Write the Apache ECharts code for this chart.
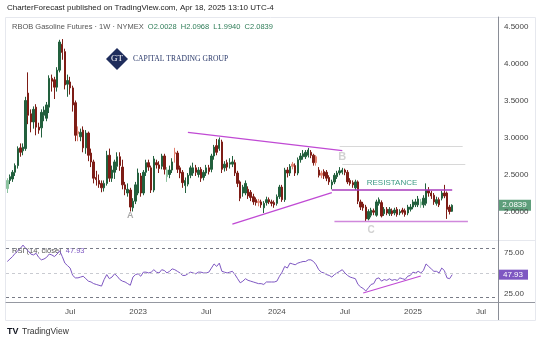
<!DOCTYPE html>
<html><head><meta charset="utf-8">
<script src="https://cdn.jsdelivr.net/npm/echarts@6/dist/echarts.min.js"></script>
<style>html,body{margin:0;padding:0;background:#fff}#c{width:540px;height:343px}</style>
</head><body><div id="c"></div>
<script>
// ---- data (weekly, RBOB Gasoline Futures, starting week of 2022-01-10) ----
const firstWeek = [2022, 0, 10];
const weekSlots = 188; // axis extends to Aug 2025
const openP = [2.31,2.42,2.44,2.53,2.62,2.86,2.82,2.85,3.60,3.32,3.21,3.41,3.14,3.13,3.30,3.26,3.41,3.80,3.78,3.68,
3.91,4.26,4.16,3.72,3.75,3.67,3.47,3.08,3.01,3.10,2.86,3.06,2.79,2.67,2.46,2.42,2.38,2.32,2.38,2.76,
2.45,2.53,2.61,2.74,2.60,2.36,2.25,2.29,2.05,2.14,2.25,2.48,2.25,2.53,2.66,2.59,2.29,2.66,2.63,2.61,
2.75,2.47,2.50,2.56,2.80,2.79,2.59,2.53,2.35,2.37,2.49,2.52,2.59,2.50,2.57,2.46,2.52,2.59,2.57,2.75,
2.89,2.85,2.94,2.59,2.66,2.64,2.64,2.66,2.52,2.40,2.25,2.25,2.30,2.26,2.20,2.16,2.14,2.13,2.05,2.12,
2.16,2.13,2.12,2.11,2.20,2.33,2.16,2.56,2.52,2.64,2.62,2.52,2.70,2.74,2.74,2.76,2.80,2.76,2.74,2.56,
2.52,2.54,2.53,2.46,2.36,2.40,2.47,2.52,2.53,2.56,2.53,2.42,2.39,2.32,2.40,2.13,2.10,2.06,1.90,1.95,
2.01,1.95,2.11,2.12,1.97,2.03,1.97,2.01,1.98,2.03,1.98,2.02,2.01,1.98,2.03,2.06,2.09,2.09,2.09,2.09,
2.11,2.29,2.25,2.22,2.11,2.16,2.18,2.25,2.25,2.06,2.0028];
const closeP = [2.42,2.47,2.53,2.62,2.85,2.80,2.87,3.50,3.30,3.21,3.38,3.14,3.10,3.34,3.37,3.44,3.80,3.76,3.68,3.91,
4.29,4.15,3.71,3.77,3.67,3.44,3.03,3.05,3.07,2.86,3.06,2.76,2.67,2.45,2.43,2.37,2.32,2.38,2.76,2.45,
2.56,2.67,2.74,2.62,2.36,2.30,2.30,2.06,2.14,2.36,2.52,2.25,2.53,2.66,2.60,2.29,2.71,2.63,2.58,2.75,
2.57,2.56,2.56,2.67,2.78,2.57,2.52,2.39,2.42,2.49,2.59,2.59,2.53,2.56,2.45,2.53,2.59,2.54,2.75,2.87,
2.80,2.97,2.57,2.64,2.60,2.66,2.67,2.52,2.38,2.18,2.33,2.38,2.21,2.19,2.13,2.12,2.12,2.09,2.11,2.16,
2.13,2.11,2.09,2.20,2.33,2.16,2.56,2.52,2.61,2.61,2.52,2.70,2.75,2.78,2.80,2.83,2.76,2.66,2.66,2.49,
2.49,2.48,2.45,2.40,2.40,2.49,2.52,2.55,2.56,2.53,2.40,2.38,2.36,2.40,2.14,2.06,2.05,1.90,2.00,2.02,
1.99,2.13,2.16,1.94,2.03,1.98,2.03,1.97,2.02,1.96,2.00,1.99,1.96,2.06,2.06,2.13,2.13,2.17,2.13,2.18,
2.29,2.25,2.21,2.13,2.16,2.09,2.25,2.21,2.03,2.00,2.0839];
const lowP = [2.25,2.37,2.40,2.48,2.58,2.74,2.76,2.82,3.18,3.07,3.12,3.03,3.05,3.00,3.22,3.22,3.33,3.62,3.52,3.62,
3.88,4.05,3.65,3.55,3.58,3.35,2.95,2.95,2.95,2.80,2.78,2.68,2.60,2.38,2.35,2.32,2.26,2.27,2.35,2.40,
2.40,2.44,2.56,2.55,2.30,2.22,2.20,2.00,2.00,2.10,2.22,2.20,2.22,2.48,2.55,2.25,2.26,2.58,2.52,2.57,
2.50,2.40,2.45,2.52,2.66,2.52,2.45,2.32,2.25,2.34,2.45,2.48,2.48,2.46,2.40,2.42,2.48,2.50,2.53,2.70,
2.76,2.82,2.52,2.54,2.55,2.58,2.60,2.48,2.33,2.14,2.20,2.22,2.17,2.14,2.09,2.08,2.07,2.05,1.98,2.08,
2.10,2.07,2.05,2.08,2.17,2.13,2.13,2.46,2.48,2.57,2.48,2.49,2.66,2.70,2.71,2.73,2.72,2.62,2.62,2.46,
2.45,2.44,2.41,2.36,2.30,2.37,2.44,2.49,2.50,2.49,2.37,2.35,2.32,2.29,2.10,2.02,2.01,1.87,1.88,1.92,
1.95,1.93,2.08,1.92,1.94,1.95,1.94,1.94,1.95,1.93,1.95,1.96,1.93,1.95,2.00,2.03,2.06,2.06,2.05,2.05,
2.08,2.20,2.17,2.09,2.08,2.06,2.15,2.18,1.90,1.96,1.9940];
const highP = [2.45,2.50,2.56,2.65,2.88,2.92,2.92,3.55,3.88,3.38,3.42,3.45,3.20,3.38,3.42,3.48,3.84,3.85,3.82,3.95,
4.32,4.33,4.20,3.85,3.82,3.70,3.50,3.15,3.12,3.15,3.10,3.08,2.85,2.70,2.55,2.50,2.42,2.42,2.82,2.85,
2.62,2.70,2.80,2.80,2.70,2.40,2.38,2.32,2.18,2.40,2.58,2.52,2.56,2.70,2.70,2.62,2.75,2.70,2.68,2.78,
2.78,2.60,2.62,2.72,2.86,2.82,2.62,2.56,2.46,2.52,2.62,2.66,2.63,2.60,2.60,2.56,2.63,2.63,2.78,2.90,
2.98,3.00,2.97,2.68,2.70,2.72,2.75,2.70,2.55,2.42,2.36,2.42,2.34,2.29,2.24,2.19,2.17,2.16,2.14,2.20,
2.19,2.16,2.15,2.23,2.36,2.36,2.59,2.60,2.64,2.67,2.65,2.73,2.79,2.83,2.83,2.86,2.83,2.78,2.76,2.60,
2.55,2.57,2.56,2.49,2.43,2.52,2.55,2.60,2.59,2.58,2.56,2.45,2.42,2.43,2.42,2.16,2.13,2.09,2.03,2.05,
2.04,2.16,2.19,2.15,2.06,2.06,2.06,2.04,2.05,2.06,2.03,2.05,2.04,2.09,2.10,2.16,2.17,2.21,2.17,2.22,
2.38,2.33,2.28,2.25,2.20,2.19,2.28,2.36,2.27,2.09,2.0968];
const rsi = [64,67,70,74,77,80,84,80,77,73,72,74,69,66,67,69,73,72,70,73,
77,70,62,59,56,47,44,44,45,46,43,40,39,37,36,35,34,42,48,43,
45,49,46,42,40,39,37,35,45,48,49,46,51,51,50,51,54,51,50,54,
53,50,52,55,54,52,50,47,47,49,51,50,49,51,51,50,50,51,56,61,
58,62,52,51,50,51,52,48,43,38,40,43,41,40,39,38,37,37,36,39,
39,39,39,40,46,51,58,56,62,61,60,62,63,64,64,66,66,64,60,54,
51,50,48,47,45,48,50,52,54,50,47,45,44,43,36,33,31,28,32,36,
37,43,44,40,42,41,43,41,42,41,44,43,42,46,47,51,50,52,50,53,
61,58,55,52,52,50,56,53,44,43,47.93];
const priceTicks = [2.0, 2.5, 3.0, 3.5, 4.0, 4.5];
const rsiTicks = [25, 75];
const rsiBands = [80, 50, 20];
const lastClose = 2.0839, lastRsi = 47.93;

// ---- build ----
const DAY = 86400000;
const t0 = Date.UTC(firstWeek[0], firstWeek[1], firstWeek[2]);
const cats = [];
for (let i = 0; i < weekSlots; i++) cats.push(new Date(t0 + i * 7 * DAY).toISOString().slice(0, 10));
function periodLabel(i) {
  const s = t0 + i * 7 * DAY;
  for (let k = 0; k < 7; k++) {
    const d = new Date(s + k * DAY);
    if (d.getUTCDate() === 1 && d.getUTCMonth() === 0) return String(d.getUTCFullYear());
    if (d.getUTCDate() === 1 && d.getUTCMonth() === 6) return 'Jul';
  }
  return '';
}
const DG = '#22603d', LG = '#8cc39f', DR = '#7e1d16', LR = '#e2806f';
const candles = openP.map((o, i) => {
  const c = closeP[i], pc = i > 0 ? closeP[i - 1] : o;
  let col;
  if (c >= o) col = (c >= pc && i > 0) ? DG : LG; else col = (c < pc) ? DR : LR;
  return { value: [o, c, lowP[i], highP[i]], itemStyle: { color: col, color0: col, borderColor: col, borderColor0: col } };
});

const FONT = 'Liberation Sans';
const chart = echarts.init(document.getElementById('c'), null, { renderer: 'canvas' });
const mag = '#c04ad4';
const solid = (color, width) => ({ color, width, type: 'solid' });
const option = {
  animation: false,
  backgroundColor: '#fff',
  textStyle: { fontFamily: FONT },
  grid: [
    { left: 6, right: 42, top: 17, height: 223 },
    { left: 6, right: 42, top: 240, height: 62 }
  ],
  xAxis: [
    { type: 'category', gridIndex: 0, data: cats, boundaryGap: true, axisLine: { show: false }, axisTick: { show: false }, axisLabel: { show: false }, splitLine: { show: false } },
    { type: 'category', gridIndex: 1, data: cats, boundaryGap: true,
      axisLine: { show: true, lineStyle: { color: '#9598a1', width: 1 } }, axisTick: { show: false },
      axisLabel: { interval: (i) => periodLabel(i) !== '', formatter: (v, i) => periodLabel(i), color: '#4a4a4a', fontSize: 8, margin: 6, fontFamily: FONT },
      splitLine: { show: false } }
  ],
  yAxis: [
    { type: 'value', gridIndex: 0, position: 'right', min: 1.615, max: 4.628, scale: true,
      axisLine: { show: true, lineStyle: { color: '#8a8d96' } }, axisTick: { show: false },
      axisLabel: { customValues: priceTicks, formatter: v => v.toFixed(4), color: '#444', fontSize: 8, margin: 6, fontFamily: FONT },
      splitLine: { show: false } },
    { type: 'value', gridIndex: 1, position: 'right', min: 14.6, max: 90.2,
      axisLine: { show: true, lineStyle: { color: '#8a8d96' } }, axisTick: { show: false },
      axisLabel: { customValues: rsiTicks, formatter: v => v.toFixed(2), color: '#444', fontSize: 8, margin: 6, fontFamily: FONT },
      splitLine: { show: false } }
  ],
  series: [
    { type: 'candlestick', xAxisIndex: 0, yAxisIndex: 0, data: candles, barWidth: '72%',
      markLine: { silent: true, symbol: 'none', label: { show: false }, lineStyle: { type: 'solid' },
        data: [
          [{ coord: [69.0, 3.068], lineStyle: solid(mag, 1.3) }, { coord: [127.9, 2.822] }],
          [{ coord: [86.2, 1.831], lineStyle: solid(mag, 1.3) }, { coord: [124.0, 2.254] }],
          [{ coord: [124.1, 2.29], lineStyle: solid('#a83cbc', 1.5) }, { coord: [169.9, 2.29] }],
          [{ coord: [124.8, 1.862], lineStyle: solid('#d088dc', 1.3) }, { coord: [175.7, 1.862] }],
          [{ coord: [127.1, 2.878], lineStyle: solid('#d8d8d8', 1) }, { coord: [174.1, 2.878] }],
          [{ coord: [128.3, 2.635], lineStyle: solid('#d8d8d8', 1) }, { coord: [174.9, 2.635] }]
        ] },
      markPoint: { silent: true, symbol: 'circle', symbolSize: 1, itemStyle: { color: 'rgba(0,0,0,0)' },
        label: { show: true, fontFamily: FONT, fontWeight: 'bold' },
        data: [
          { coord: [47, 1.94], label: { formatter: 'A', color: '#a8a8a8', fontSize: 9 } },
          { coord: [127.5, 2.736], label: { formatter: 'B', color: '#d2d2d2', fontSize: 11 } },
          { coord: [138.6, 1.75], label: { formatter: 'C', color: '#d2d2d2', fontSize: 10 } },
          { coord: [147, 2.385], label: { formatter: 'RESISTANCE', color: '#3d9a84', fontSize: 8, fontWeight: 'normal' } }
        ] }
    },
    { type: 'line', xAxisIndex: 1, yAxisIndex: 1, data: rsi, symbol: 'none', smooth: false,
      lineStyle: { color: '#7e57c2', width: 1 },
      markLine: { silent: true, symbol: 'none', label: { show: false },
        data: [
          { yAxis: rsiBands[0], lineStyle: { color: '#787b86', type: [3, 3], width: 1 } },
          { yAxis: rsiBands[1], lineStyle: { color: '#c9cbd1', type: [3, 3], width: 1 } },
          { yAxis: rsiBands[2], lineStyle: { color: '#787b86', type: [3, 3], width: 1 } },
          [{ coord: [136.3, 25.6], lineStyle: solid(mag, 1.2) }, { coord: [158.1, 46.3] }]
        ] }
    }
  ]
};
chart.setOption(option);

const yPrice = chart.convertToPixel({ yAxisIndex: 0 }, lastClose);
const yR = chart.convertToPixel({ yAxisIndex: 1 }, lastRsi);
chart.setOption({
  graphic: [
    { type: 'rect', shape: { x: 5.5, y: 17.5, width: 530, height: 303 }, style: { fill: 'none', stroke: '#e6e8ee', lineWidth: 1 }, silent: true },
    { type: 'line', shape: { x1: 6, y1: 240.5, x2: 535, y2: 240.5 }, style: { stroke: '#e6e8ee', lineWidth: 1 } },
    { type: 'line', shape: { x1: 498, y1: 302.5, x2: 535, y2: 302.5 }, style: { stroke: '#9598a1', lineWidth: 1 } },
    { type: 'line', shape: { x1: 498.5, y1: 302, x2: 498.5, y2: 320 }, style: { stroke: '#8a8d96', lineWidth: 1 } },
    { type: 'text', x: 7, y: 8, style: { text: 'CharterForecast published on TradingView.com, Apr 18, 2025 13:10 UTC-4', font: '8px "' + FONT + '"', fill: '#222', textVerticalAlign: 'middle' } },
    { type: 'text', x: 12, y: 27, style: { rich: { a: { fill: '#555', fontSize: 7.5, fontFamily: FONT }, b: { fill: '#2f7d58', fontSize: 7.5, fontFamily: FONT } },
        text: '{a|RBOB Gasoline Futures · 1W · NYMEX  }{b|O2.0028  H2.0968  L1.9940  C2.0839}', textVerticalAlign: 'middle' } },
    { type: 'polygon', shape: { points: [[117, 48], [128, 59], [117, 70], [106, 59]] }, style: { fill: '#1f2d5c' } },
    { type: 'text', x: 117, y: 59, style: { text: 'GT', font: '9px "Liberation Serif"', fill: '#fff', textAlign: 'center', textVerticalAlign: 'middle' } },
    { type: 'text', x: 133, y: 59, style: { text: 'CAPITAL TRADING GROUP', font: '7.6px "Liberation Serif"', fill: '#2b3a6b', textVerticalAlign: 'middle' } },
    { type: 'text', x: 12, y: 251, style: { rich: { a: { fill: '#555', fontSize: 7.5, fontFamily: FONT }, b: { fill: '#7e57c2', fontSize: 7.5, fontFamily: FONT } },
        text: '{a|RSI (14, close)  }{b|47.93}', textVerticalAlign: 'middle' } },
    { type: 'rect', shape: { x: 498, y: yPrice - 5.5, width: 33, height: 11 }, style: { fill: '#5e9e7b' } },
    { type: 'text', x: 514.5, y: yPrice, style: { text: lastClose.toFixed(4), font: '8px "' + FONT + '"', fill: '#fff', textAlign: 'center', textVerticalAlign: 'middle' } },
    { type: 'rect', shape: { x: 498, y: yR - 5, width: 30, height: 10 }, style: { fill: '#7e57c2' } },
    { type: 'text', x: 513, y: yR, style: { text: lastRsi.toFixed(2), font: '8px "' + FONT + '"', fill: '#fff', textAlign: 'center', textVerticalAlign: 'middle' } },
    { type: 'text', x: 7, y: 332, style: { text: 'TV', font: 'bold 9px "' + FONT + '"', fill: '#131722', textVerticalAlign: 'middle' } },
    { type: 'text', x: 22, y: 332, style: { text: 'TradingView', font: '8.5px "' + FONT + '"', fill: '#333', textVerticalAlign: 'middle' } }
  ]
});
</script></body></html>
